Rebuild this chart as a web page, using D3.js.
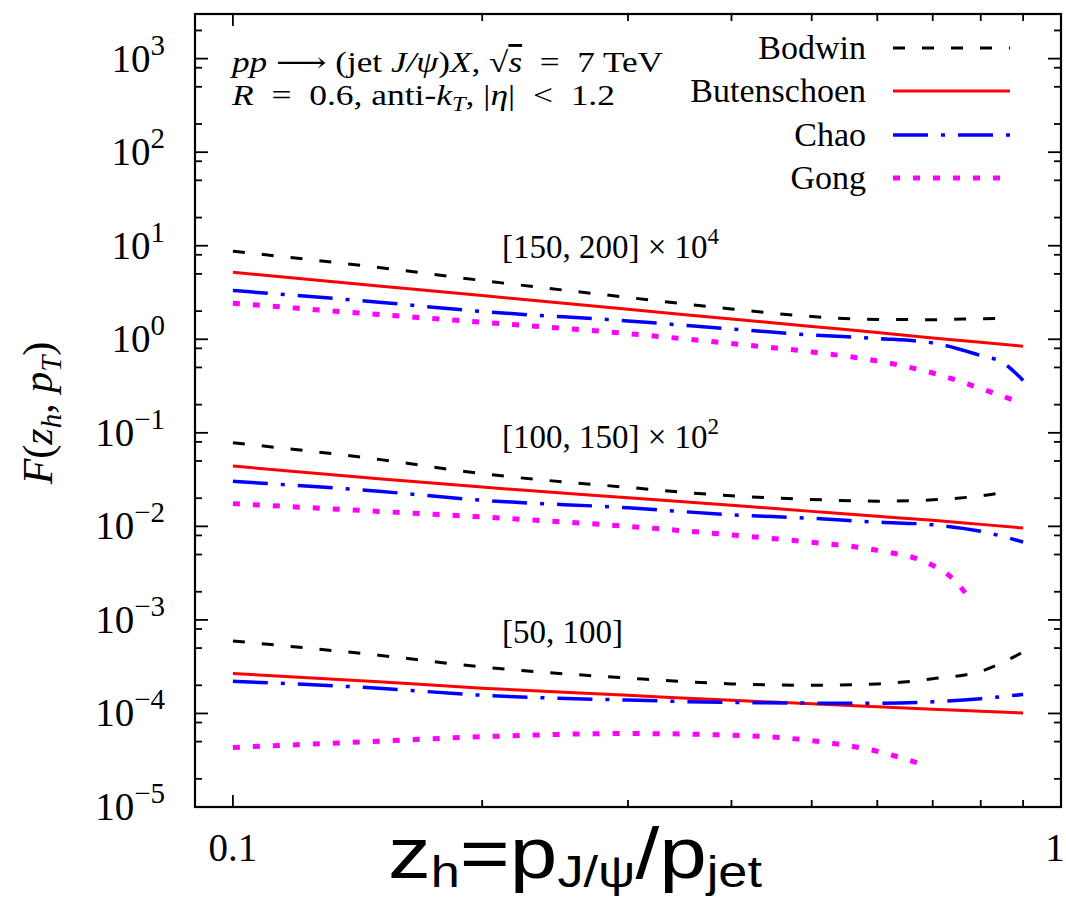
<!DOCTYPE html>
<html>
<head>
<meta charset="utf-8">
<script src="https://cdn.jsdelivr.net/npm/d3@7"></script>
<style>
  body { margin: 0; background: #fff; }
  text { font-family: "Liberation Serif", "DejaVu Serif", serif; }
</style>
</head>
<body>
<svg id="chart" width="1066" height="907"></svg>
<script>
// models and pT bins
const models = ["Bodwin", "Butenschoen", "Chao", "Gong"];
const colors = ["#000000", "#ff0000", "#0000ff", "#ff00ff"];
const dashes = ["12,17", null, "35,13,4,13", "7,13"];
const widths = [3, 3, 3.5, 5];

const xTicks = [0.1, 0.2, 0.3, 0.4, 0.5, 0.6, 0.7, 0.8, 0.9, 1];
const yTicks = [1e-5, 1e-4, 1e-3, 1e-2, 1e-1, 1, 10, 100, 1000];

// z_h points
const zFull = [0.1, 0.15, 0.2, 0.3, 0.4, 0.5, 0.6, 0.7, 0.8, 0.9];
const zBodwin = [0.1, 0.15, 0.2, 0.3, 0.4, 0.5, 0.6, 0.7, 0.8, 0.86];
const zChaoHi = [0.1, 0.15, 0.2, 0.3, 0.4, 0.5, 0.6, 0.7, 0.8, 0.85, 0.9];
const zGongHi = [0.1, 0.15, 0.2, 0.3, 0.4, 0.5, 0.6, 0.7, 0.8, 0.89];
const zGongMid = [0.1, 0.15, 0.2, 0.3, 0.4, 0.5, 0.6, 0.7, 0.75, 0.78];
const zGongLow = [0.1, 0.15, 0.2, 0.3, 0.4, 0.5, 0.6, 0.685];

// [150,200] x 10^4
const bodwinHi = [8.73, 5.85, 4.25, 2.80, 2.11, 1.75, 1.63, 1.62, 1.66, 1.68];
const butenHi  = [5.21, 3.72, 2.93, 2.09, 1.65, 1.37, 1.18, 1.03, 0.927, 0.844];
const chaoHi   = [3.32, 2.49, 1.98, 1.57, 1.29, 1.11, 1.02, 0.913, 0.67, 0.565, 0.363];
const gongHi   = [2.43, 1.84, 1.52, 1.15, 0.90, 0.732, 0.586, 0.436, 0.298, 0.213];

// [100,150] x 10^2
const bodwinMid = [0.0783, 0.052, 0.0366, 0.0261, 0.0212, 0.0194, 0.0186, 0.0192, 0.0212, 0.0232];
const butenMid  = [0.0441, 0.0322, 0.0263, 0.0202, 0.0168, 0.01446, 0.0128, 0.0116, 0.0105, 0.0096];
const chaoMid   = [0.0303, 0.0237, 0.019, 0.0158, 0.0133, 0.0122, 0.0111, 0.0104, 0.00885, 0.0068];
const gongMid   = [0.0175, 0.01446, 0.0126, 0.0100, 0.00811, 0.00675, 0.00554, 0.00383, 0.00246, 0.00155];

// [50,100]
const bodwinLow = [5.95e-4, 4.19e-4, 3.14e-4, 2.39e-4, 2.07e-4, 2.0e-4, 2.07e-4, 2.35e-4, 2.82e-4, 4.54e-4];
const butenLow  = [2.67e-4, 2.18e-4, 1.86e-4, 1.565e-4, 1.38e-4, 1.27e-4, 1.18e-4, 1.11e-4, 1.057e-4, 1.01e-4];
const chaoLow   = [2.21e-4, 1.86e-4, 1.565e-4, 1.39e-4, 1.31e-4, 1.29e-4, 1.285e-4, 1.33e-4, 1.44e-4, 1.6e-4];
const gongLow   = [4.33e-5, 5.05e-5, 5.64e-5, 6.1e-5, 5.86e-5, 5.12e-5, 3.94e-5, 2.8e-5];

const series = [
  [0, zBodwin, bodwinHi], [1, zFull, butenHi], [2, zChaoHi, chaoHi], [3, zGongHi, gongHi],
  [0, zBodwin, bodwinMid], [1, zFull, butenMid], [2, zFull, chaoMid], [3, zGongMid, gongMid],
  [0, zFull, bodwinLow], [1, zFull, butenLow], [2, zFull, chaoLow], [3, zGongLow, gongLow]
];

const svg = d3.select("#chart");
const pLeft = 195, pRight = 1061, pTop = 14, pBottom = 807;
const serif = "'Liberation Serif', 'DejaVu Serif', serif";

const x = d3.scaleLog().domain([0.09, 1]).range([pLeft, pRight]);
const y = d3.scaleLog().domain([1e-5, 3000]).range([pBottom, pTop]);

svg.append("clipPath").attr("id", "clip")
  .append("rect").attr("x", pLeft).attr("y", pTop).attr("width", pRight - pLeft).attr("height", pBottom - pTop);

// minor y ticks at 2,5,8 per decade
const yMinor = [];
for (let e = -5; e <= 3; e++) [2, 5, 8].forEach(m => { const v = m * Math.pow(10, e); if (v < 3000) yMinor.push(v); });

const g = svg.append("g");

// ticks (inward, all four sides)
function tickLines(vals, len, isY) {
  vals.forEach(v => {
    if (isY) {
      const p = y(v);
      g.append("line").attr("x1", pLeft).attr("x2", pLeft + len).attr("y1", p).attr("y2", p);
      g.append("line").attr("x1", pRight).attr("x2", pRight - len).attr("y1", p).attr("y2", p);
    } else {
      const p = x(v);
      g.append("line").attr("y1", pBottom).attr("y2", pBottom - len).attr("x1", p).attr("x2", p);
      g.append("line").attr("y1", pTop).attr("y2", pTop + len).attr("x1", p).attr("x2", p);
    }
  });
}
tickLines(yTicks.filter(v => v > 1e-5), 13, true);
tickLines(yMinor, 7, true);
tickLines([0.1], 12, false);
tickLines(xTicks.slice(1, 9), 7, false);
g.selectAll("line").attr("stroke", "#000").attr("stroke-width", 1.8);

// curves
const line = d3.line().x(d => x(d[0])).y(d => y(d[1])).curve(d3.curveMonotoneX);
const curves = svg.append("g").attr("clip-path", "url(#clip)");
series.forEach(([m, zs, vs]) => {
  curves.append("path")
    .attr("d", line(zs.map((z, i) => [z, vs[i]])))
    .attr("fill", "none")
    .attr("stroke", colors[m])
    .attr("stroke-width", widths[m])
    .attr("stroke-dasharray", dashes[m]);
});

// frame
svg.append("rect").attr("x", pLeft).attr("y", pTop).attr("width", pRight - pLeft).attr("height", pBottom - pTop)
  .attr("fill", "none").attr("stroke", "#000").attr("stroke-width", 2.2);

// y tick labels
yTicks.forEach(v => {
  const e = Math.round(Math.log10(v));
  const t = svg.append("text").attr("x", 165).attr("y", y(v) + 13)
    .attr("text-anchor", "end").attr("font-size", 39).style("font-family", serif);
  t.append("tspan").text("10");
  t.append("tspan").attr("dy", -17).attr("font-size", 29).text(e < 0 ? "\u2212" + (-e) : String(e));
});

// x tick labels
svg.append("text").attr("x", x(0.1)).attr("y", 861).attr("text-anchor", "middle")
  .attr("font-size", 39).style("font-family", serif).text("0.1");
svg.append("text").attr("x", 1055).attr("y", 861).attr("text-anchor", "middle")
  .attr("font-size", 39).style("font-family", serif).text("1");

// y axis title
const yt = svg.append("text").attr("transform", "translate(52,413) rotate(-90)")
  .attr("text-anchor", "middle").attr("font-size", 42).style("font-family", serif);
yt.append("tspan").attr("font-style", "italic").text("F");
yt.append("tspan").text("(");
yt.append("tspan").attr("font-style", "italic").text("z");
yt.append("tspan").attr("font-style", "italic").attr("font-size", 29).attr("dy", 9).text("h");
yt.append("tspan").attr("dy", -9).text(", ");
yt.append("tspan").attr("font-style", "italic").text("p");
yt.append("tspan").attr("font-style", "italic").attr("font-size", 29).attr("dy", 9).text("T");
yt.append("tspan").attr("dy", -9).text(")");

// x axis title (sans)
const xt = svg.append("text").attr("x", 388).attr("y", 878)
  .style("font-family", "'Liberation Sans', Arial, sans-serif").attr("font-size", 72)
  .attr("textLength", 374).attr("lengthAdjust", "spacingAndGlyphs");
xt.append("tspan").text("z");
xt.append("tspan").attr("font-size", 44).attr("dy", 9).text("h");
xt.append("tspan").attr("dy", -9).text("=p");
xt.append("tspan").attr("font-size", 44).attr("dy", 9).text("J/\u03c8");
xt.append("tspan").attr("dy", -9).text("/p");
xt.append("tspan").attr("font-size", 44).attr("dy", 9).text("jet");

// process annotation
const a1 = svg.append("text").attr("x", 232).attr("y", 72).attr("font-size", 29).style("font-family", serif)
  .attr("textLength", 431).attr("lengthAdjust", "spacingAndGlyphs");
a1.append("tspan").attr("font-style", "italic").text("pp");
a1.append("tspan").text(" \u27f6 (jet ");
a1.append("tspan").attr("font-style", "italic").text("J/\u03c8");
a1.append("tspan").text(")");
a1.append("tspan").attr("font-style", "italic").text("X");
a1.append("tspan").text(", \u221a");
a1.append("tspan").attr("font-style", "italic").style("text-decoration", "overline").text("s");
a1.append("tspan").text("\u2002=\u20027 TeV");

const a2 = svg.append("text").attr("x", 232).attr("y", 105).attr("font-size", 29).style("font-family", serif)
  .attr("textLength", 383).attr("lengthAdjust", "spacingAndGlyphs");
a2.append("tspan").attr("font-style", "italic").text("R");
a2.append("tspan").text("\u2002=\u20020.6, anti-");
a2.append("tspan").attr("font-style", "italic").text("k");
a2.append("tspan").attr("font-style", "italic").attr("font-size", 20).attr("dy", 6).text("T");
a2.append("tspan").attr("dy", -6).text(", |");
a2.append("tspan").attr("font-style", "italic").text("\u03b7");
a2.append("tspan").text("|\u2002<\u20021.2");

// bin labels
const binLabels = [["[150, 200] \u00d7 10", "4", 258], ["[100, 150] \u00d7 10", "2", 448], ["[50, 100]", null, 643]];
binLabels.forEach(([txt, sup, yy]) => {
  const t = svg.append("text").attr("x", 502).attr("y", yy).attr("font-size", 33).style("font-family", serif);
  t.append("tspan").text(txt);
  if (sup) t.append("tspan").attr("dy", -14).attr("font-size", 23).text(sup);
});

// legend
const legY = [48, 91, 135, 178];
models.forEach((name, i) => {
  svg.append("text").attr("x", 866).attr("y", legY[i] + 11).attr("text-anchor", "end")
    .attr("font-size", 34).style("font-family", serif).text(name);
  svg.append("line").attr("x1", 893).attr("x2", i === 3 ? 1002 : 1010)
    .attr("y1", legY[i]).attr("y2", legY[i])
    .attr("stroke", colors[i]).attr("stroke-width", widths[i])
    .attr("stroke-dasharray", dashes[i]);
});
</script>
</body>
</html>
